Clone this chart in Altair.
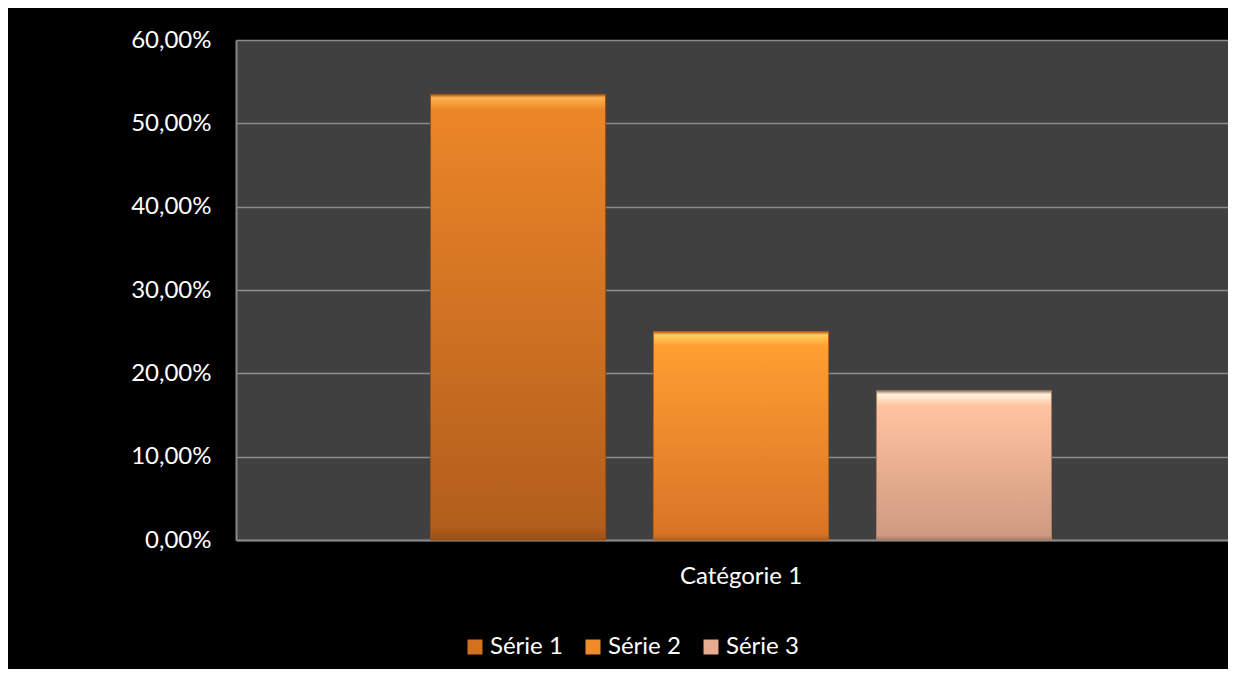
import altair as alt
import pandas as pd

category = ["Catégorie 1"]
series = ["Série 1", "Série 2", "Série 3"]
values = [0.535, 0.25, 0.179]
legend_colors = ["#D2711F", "#F08B2A", "#E8AC90"]
top_colors = ["#EC8628", "#FF9E31", "#FFC3A0"]
bottom_colors = ["#B25E1C", "#D97427", "#CF9A80"]
highlight_colors = ["#FFB24E", "#FFD060", "#FFF3DC"]
edge_colors = ["#9A4E14", "#B8601A", "#A87C66"]
y_ticks = [0, 0.1, 0.2, 0.3, 0.4, 0.5, 0.6]

df = pd.DataFrame({
    "cat": [category[0]] * len(series),
    "serie": series,
    "val": values,
})

FONT = "Lato"

x_enc = alt.X(
    "cat:N",
    title=None,
    scale=alt.Scale(range=[0, 1010], paddingInner=0, paddingOuter=0.3132),
    axis=alt.Axis(
        labelAngle=0, labelFontSize=24, labelColor="#FFFFFF", labelFont=FONT,
        ticks=False, labelPadding=24, domainColor="#888888", domainWidth=2,
        grid=False,
    ),
)
xoff_enc = alt.XOffset(
    "serie:N", scale=alt.Scale(domain=series, paddingInner=0.215, paddingOuter=0)
)
y_enc = alt.Y(
    "val:Q",
    title=None,
    scale=alt.Scale(domain=[0, 0.6], nice=False),
    axis=alt.Axis(
        values=y_ticks, labelExpr="replace(format(datum.value, '.2%'), '.', ',')",
        labelFontSize=24, labelColor="#FFFFFF", labelFont=FONT, ticks=False,
        labelPadding=25, domainColor="#888888", domainWidth=2,
        gridColor="#8C8C8C", gridWidth=1.5,
    ),
)

base = alt.Chart(df).mark_bar().encode(
    x=x_enc,
    xOffset=xoff_enc,
    y=y_enc,
    color=alt.Color(
        "serie:N",
        scale=alt.Scale(domain=series, range=legend_colors),
        legend=alt.Legend(
            title=None, orient="none", direction="horizontal",
            legendX=227, legendY=595, symbolType="square", symbolSize=225,
            symbolStrokeWidth=0, labelFontSize=24, labelColor="#FFFFFF",
            labelFont=FONT, labelOffset=3, columnPadding=18, padding=0,
        ),
    ),
)

layers = [base]
for i, s in enumerate(series):
    grad = alt.LinearGradient(
        gradient="linear", x1=0, y1=0, x2=0, y2=1,
        stops=[
            alt.GradientStop(offset=0, color=edge_colors[i]),
            alt.GradientStop(offset=0.008 if i == 0 else (0.016 if i == 1 else 0.024), color=highlight_colors[i]),
            alt.GradientStop(offset=0.035 if i == 0 else (0.07 if i == 1 else 0.1), color=top_colors[i]),
            alt.GradientStop(offset=0.97, color=bottom_colors[i]),
            alt.GradientStop(offset=1, color=edge_colors[i]),
        ],
    )
    layers.append(
        alt.Chart(df)
        .transform_filter(alt.datum.serie == s)
        .mark_bar(color=grad, stroke=edge_colors[i], strokeWidth=1)
        .encode(x=x_enc, xOffset=xoff_enc, y=y_enc)
    )

chart = (
    alt.layer(*layers)
    .properties(
        width=992, height=500,
        autosize=alt.AutoSizeParams(type="none"),
        padding={"left": 228, "top": 32, "right": 0, "bottom": 129},
        background="#000000",
    )
    .configure_view(fill="#404040", stroke=None)
)

chart.save("out.html", embed_options={"renderer": "svg", "actions": False})
